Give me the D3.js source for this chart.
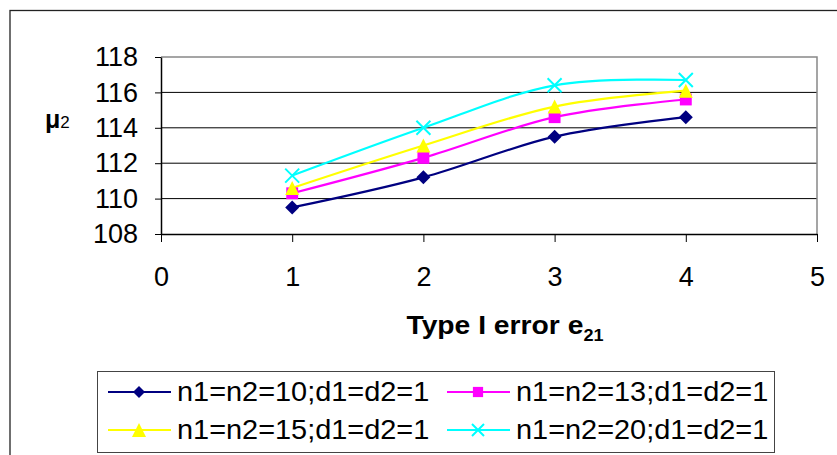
<!DOCTYPE html>
<html>
<head>
<meta charset="utf-8">
<script src="https://cdn.jsdelivr.net/npm/d3@7"></script>
<style>
  body { margin: 0; background: #fff; }
  svg { display: block; font-family: "Liberation Sans", Arial, sans-serif; }
</style>
</head>
<body>
<svg width="837" height="455"></svg>
<script>
// data
const errors = [1, 2, 3, 4]
const mu10 = [109.5, 111.2, 113.5, 114.6]
const mu13 = [110.3, 112.3, 114.6, 115.6]
const mu15 = [110.6, 113.0, 115.2, 116.1]
const mu20 = [111.3, 114.0, 116.4, 116.7]
const seriesNames = ["n1=n2=10;d1=d2=1", "n1=n2=13;d1=d2=1", "n1=n2=15;d1=d2=1", "n1=n2=20;d1=d2=1"]
const xTicks = [0, 1, 2, 3, 4, 5]
const yTicks = [108, 110, 112, 114, 116, 118]

const series = [
  { name: seriesNames[0], values: mu10, color: "#000080", mark: "diamond" },
  { name: seriesNames[1], values: mu13, color: "#ff00ff", mark: "square" },
  { name: seriesNames[2], values: mu15, color: "#ffff00", mark: "triangle" },
  { name: seriesNames[3], values: mu20, color: "#00ffff", mark: "cross" }
]

const svg = d3.select("svg")
const pLeft = 161, pRight = 817, pTop = 57, pBottom = 234

const x = d3.scaleLinear().domain([0, 5]).range([pLeft, pRight])
const y = d3.scaleLinear().domain([108, 118]).range([pBottom, pTop])

// some text in the picture is a bit wider than plain Arial
function stretch(sel, k) {
  sel.each(function() {
    const w = this.getComputedTextLength()
    d3.select(this).attr("textLength", w * k).attr("lengthAdjust", "spacingAndGlyphs")
  })
}

// outer chart frame
svg.append("rect")
  .attr("x", 10).attr("y", 10.5)
  .attr("width", 900).attr("height", 500)
  .attr("fill", "none").attr("stroke", "#222").attr("stroke-width", 1.3)

// grid
svg.append("g").selectAll("line")
  .data(yTicks.filter(d => d > 108 && d < 118)).enter()
  .append("line")
  .attr("x1", pLeft).attr("x2", pRight)
  .attr("y1", d => y(d)).attr("y2", d => y(d))
  .attr("stroke", "#000").attr("stroke-width", 1)

// plot frame top / right
svg.append("path")
  .attr("d", `M${pLeft},${pTop}H${pRight}V${pBottom}`)
  .attr("fill", "none").attr("stroke", "#888").attr("stroke-width", 1.5)

const yAxis = svg.append("g")
  .attr("transform", `translate(${pLeft},0)`)
  .call(d3.axisLeft(y).tickValues(yTicks).tickSize(6).tickPadding(17).tickSizeOuter(0))
yAxis.select(".domain").attr("stroke-width", 1.5)
yAxis.selectAll("text").attr("font-size", 27).attr("fill", "#000").attr("font-family", null)

const xAxis = svg.append("g")
  .attr("transform", `translate(0,${pBottom})`)
  .call(d3.axisBottom(x).tickValues(xTicks).tickFormat(d3.format("d"))
    .tickSize(8).tickPadding(25).tickSizeOuter(0))
xAxis.select(".domain").attr("stroke-width", 1.5)
xAxis.selectAll("text").attr("font-size", 27).attr("fill", "#000").attr("font-family", null)

// axis titles
const xt = svg.append("text")
  .attr("x", 505).attr("y", 334)
  .attr("text-anchor", "middle")
  .attr("font-weight", "bold").attr("font-size", 25)
xt.append("tspan").text("Type I error e")
xt.append("tspan").attr("dy", 7).attr("font-size", 16).text("21")
stretch(xt, 1.13)

const yt = svg.append("text").attr("x", 45).attr("y", 128)
yt.append("tspan").attr("font-weight", "bold").attr("font-size", 25).text("μ")
yt.append("tspan").attr("font-size", 17).text("2")

// markers
function marker(g, type, color, s) {
  if (type === "diamond") {
    g.append("path").attr("d", `M0,${-s}L${s},0L0,${s}L${-s},0Z`).attr("fill", color)
  } else if (type === "square") {
    g.append("rect").attr("x", -s * 0.85).attr("y", -s * 0.85)
      .attr("width", s * 1.7).attr("height", s * 1.7).attr("fill", color)
  } else if (type === "triangle") {
    g.append("path").attr("d", `M0,${-s}L${s},${s}L${-s},${s}Z`).attr("fill", color)
  } else {
    g.append("path").attr("d", `M${-s},${-s}L${s},${s}M${-s},${s}L${s},${-s}`)
      .attr("stroke", color).attr("stroke-width", 2).attr("fill", "none")
  }
}

const line = d3.line()
  .x((d, i) => x(errors[i]))
  .y(d => y(d))
  .curve(d3.curveCardinal.tension(0))

const plot = svg.append("g")
series.forEach(s => {
  plot.append("path")
    .attr("d", line(s.values))
    .attr("fill", "none").attr("stroke", s.color).attr("stroke-width", 2.2)
})
series.forEach(s => {
  plot.selectAll(null).data(s.values).enter()
    .append("g")
    .attr("transform", (d, i) => `translate(${x(errors[i])},${y(d)})`)
    .each(function() { marker(d3.select(this), s.mark, s.color, 7) })
})

// legend
svg.append("rect")
  .attr("x", 97.5).attr("y", 371.5)
  .attr("width", 677).attr("height", 81)
  .attr("fill", "#fff").attr("stroke", "#444").attr("stroke-width", 1)

const legendPos = [[108, 392], [447, 392], [108, 430], [447, 430]]
const lg = svg.append("g").selectAll("g")
  .data(series).enter()
  .append("g")
  .attr("transform", (d, i) => `translate(${legendPos[i][0]},${legendPos[i][1]})`)

lg.append("line")
  .attr("x1", 0).attr("x2", 63)
  .attr("stroke", d => d.color).attr("stroke-width", 2.2)
lg.append("g")
  .attr("transform", "translate(31,0)")
  .each(function(d) { marker(d3.select(this), d.mark, d.color, d.mark === "triangle" ? 7 : 6) })
lg.append("text")
  .attr("x", 69).attr("y", 9)
  .attr("font-size", 27)
  .text(d => d.name)
  .call(stretch, 1.07)
</script>
</body>
</html>
